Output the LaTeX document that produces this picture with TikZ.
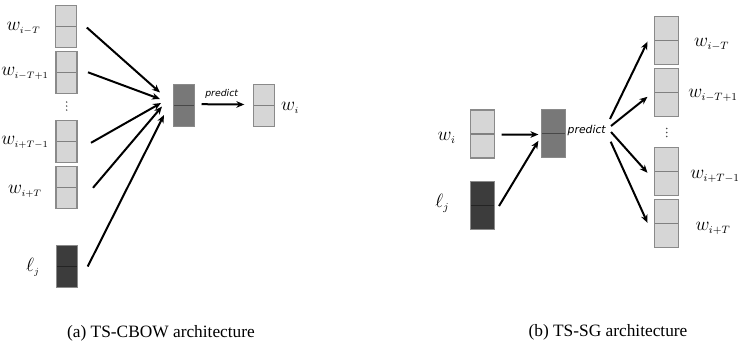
\documentclass[tikz,border=0pt]{standalone}
\usepackage{fontspec}
\setmainfont{Liberation Serif}
\newfontfamily\predfont{DejaVu Sans}
\usetikzlibrary{calc,arrows.meta}
\definecolor{lightbox}{HTML}{D6D6D6}
\definecolor{midbox}{HTML}{787878}
\definecolor{darkbox}{HTML}{3C3C3C}
\definecolor{boxedge}{HTML}{8A8A8A}
\tikzset{
  vec/.style={draw=boxedge, line width=0.8pt, inner sep=0pt, outer sep=0pt,
    path picture={\draw[line width=0.8pt, draw=#1!60!black] (path picture bounding box.west) -- (path picture bounding box.east);}},
  vecL/.style={vec=#1, fill=#1, minimum width=15.75pt, minimum height=31.5pt},
  vecR/.style={vec=#1, fill=#1, minimum width=18pt, minimum height=36pt},
  conn/.style={line width=1.5pt, -{Stealth[length=6pt,width=5pt]}},
  lblL/.style={font=\fontsize{14}{16}\selectfont, inner sep=0pt},
  lblR/.style={font=\fontsize{15.5}{18}\selectfont, inner sep=0pt},
  captext/.style={font=\fontsize{13}{15}\selectfont, inner sep=0pt},
  pred/.style={inner sep=0pt},
  vdot/.style={fill=black!70, draw=none}
}
\newcommand{\sss}{\scriptscriptstyle}
\begin{document}
\begin{tikzpicture}[x=0.75pt,y=-0.75pt]
\useasboundingbox (0,0) rectangle (741,344);
% ---------- (a) TS-CBOW ----------
\node[vecL=lightbox] (l1) at (66.3,26.5) {};
\node[vecL=lightbox] (l2) at (66.5,72.3) {};
\node[vecL=lightbox] (l3) at (66.5,141.8) {};
\node[vecL=lightbox] (l4) at (66.5,187.3) {};
\node[vecL=darkbox] (l5) at (66.7,266.5) {};
\foreach \yy in {102,106,110} \fill[vdot] (66.7,\yy) circle (0.8);
\node[vecL=midbox] (lh) at (184.3,105.2) {};
\node[vecL=lightbox] (lo) at (263.8,105.5) {};

\node[lblL] (tl1) at (23.5,28) {$w_{\sss i-T}$};
\node[lblL] (tl2) at (25,73.5) {$w_{\sss i-T+1}$};
\node[lblL] (tl3) at (25,142.5) {$w_{\sss i+T-1}$};
\node[lblL] (tl4) at (25,191) {$w_{\sss i+T}$};
\node[lblL] (tl5) at (33,267) {$\ell_{\sss j}$};
\node[lblL] (tlo) at (290,108) {$w_{\sss i}$};

\coordinate (e1) at (160,92.5);
\coordinate (e2) at (160,99);
\coordinate (e3) at (161,103);
\coordinate (e4) at (162,106.5);
\coordinate (e5) at (164,115);
\draw[conn] ($(l1.east)+(10,1)$) -- (e1);
\draw[conn] ($(l2.east)+(11,0)$) -- (e2);
\draw[conn] ($(l3.east)+(14,1)$) -- (e3);
\draw[conn] ($(l4.east)+(16,0.5)$) -- (e4);
\draw[conn] ($(l5.east)+(10.5,0)$) -- (e5);
\draw[conn] ($(lh.east)+(6.7,-1)$) -- ($(lo.west)+(-9,-1)$);
\node[pred, font=\predfont\itshape\fontsize{7}{8}\selectfont] (pl) at (221.7,94.3) {predict};

\node[captext] (capa) at (161,333) {(a) TS-CBOW architecture};

% ---------- (b) TS-SG ----------
\node[vecR=lightbox] (ri) at (482.3,134) {};
\node[vecR=darkbox] (rl) at (482.3,205.7) {};
\node[vecR=midbox] (rh) at (553.8,133.8) {};
\node[vecR=lightbox] (r1) at (666.5,40.2) {};
\node[vecR=lightbox] (r2) at (666.5,92.8) {};
\node[vecR=lightbox] (r3) at (666.5,171.8) {};
\node[vecR=lightbox] (r4) at (666.5,223.8) {};
\foreach \yy in {128.5,132.5,136.5} \fill[vdot] (666.7,\yy) circle (0.9);

\node[lblR] (tri) at (446.7,138) {$w_{\sss i}$};
\node[lblR] (trl) at (442.3,203.5) {$\ell_{\sss j}$};
\node[lblR] (tr1) at (711.7,44) {$w_{\sss i-T}$};
\node[lblR] (tr2) at (713,95.5) {$w_{\sss i-T+1}$};
\node[lblR] (tr3) at (715,176) {$w_{\sss i+T-1}$};
\node[lblR] (tr4) at (713,228.5) {$w_{\sss i+T}$};

\node[pred, font=\predfont\itshape\fontsize{8.1}{9}\selectfont] (pr) at (586.7,131) {predict};

\draw[conn] ($(ri.east)+(7.4,0.5)$) -- ($(rh.west)+(-3.4,0.7)$);
\draw[conn] ($(rl.east)+(4.7,0.3)$) -- ($(rh.west)+(-3.4,7)$);
\coordinate (s1) at (610,119);
\coordinate (s2) at (611,126);
\coordinate (s3) at (611,132);
\coordinate (s4) at (610.7,141.7);
\draw[conn] (s1) -- ($(r1.west)+(-7,1.5)$);
\draw[conn] (s2) -- ($(r2.west)+(-7,4)$);
\draw[conn] (s3) -- ($(r3.west)+(-7,1)$);
\draw[conn] (s4) -- ($(r4.west)+(-7,-1)$);

\node[captext] (capb) at (608,332) {(b) TS-SG architecture};
\end{tikzpicture}
\end{document}
